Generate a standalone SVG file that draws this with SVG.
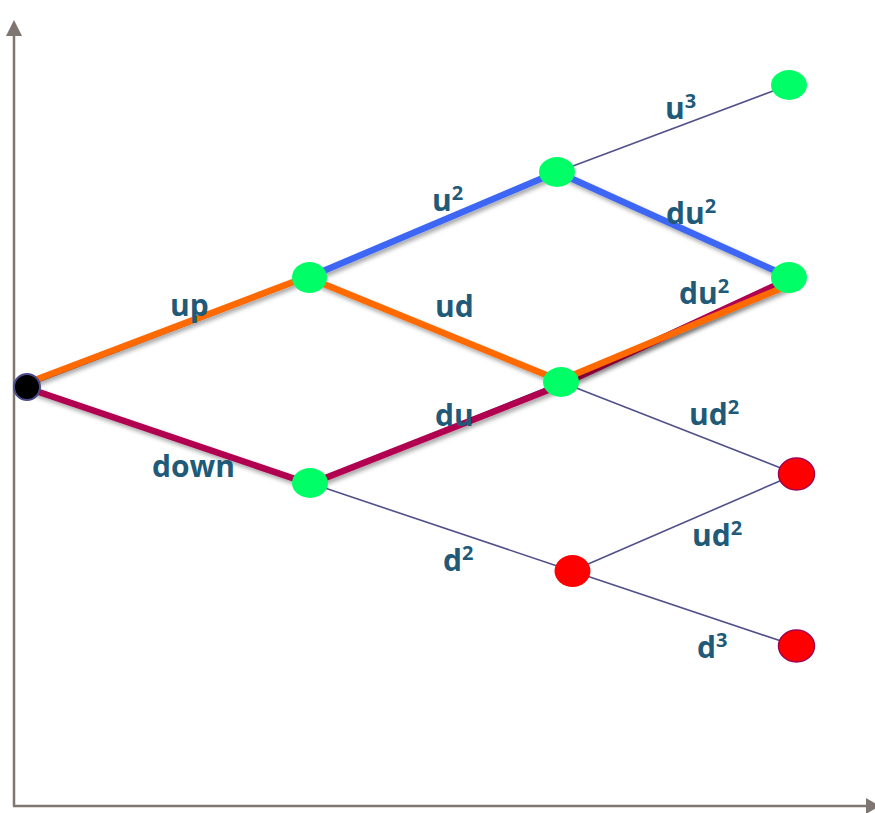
<svg xmlns="http://www.w3.org/2000/svg" width="875" height="813" viewBox="0 0 875 813">
<defs>
<filter id="sh" x="-10%" y="-20%" width="130%" height="160%">
<feDropShadow dx="2" dy="3" stdDeviation="2" flood-color="#000" flood-opacity="0.35"/>
</filter>
<style>
.axis{stroke:#7f7672;stroke-width:2.5;fill:none}
.thin{stroke:#50508a;stroke-width:1.6;fill:none}
.blue{stroke:#3d66f5;stroke-width:6.5;fill:none;filter:url(#sh)}
.orange{stroke:#ff6a00;stroke-width:6.5;fill:none;filter:url(#sh)}
.crim{stroke:#b0004f;stroke-width:6.5;fill:none;filter:url(#sh)}
.g{fill:#00ff66}
.r{fill:#ff0000;stroke:#a00050;stroke-width:1.5}
.rn{fill:#ff0000}
.lbl{font-family:"Open Sans","Liberation Sans",sans-serif;font-weight:bold;font-size:30px;fill:#215a78}
.sup{font-size:20px}
</style>
</defs>
<rect width="875" height="813" fill="#fff"/>
<g id="axes">
<line class="axis" x1="14" y1="34" x2="14" y2="806"/>
<line class="axis" x1="13" y1="806" x2="866" y2="806"/>
<polygon points="14,20 6,36 22,36" fill="#7f7672"/>
<polygon points="866,798 866,814 880,806" fill="#7f7672"/>
</g>
<g id="connectors">
<line class="thin" x1="27" y1="386" x2="309" y2="278"/>
<line class="thin" x1="27" y1="386" x2="310" y2="483"/>
<line class="thin" x1="309" y1="278" x2="557" y2="172"/>
<line class="thin" x1="309" y1="278" x2="561" y2="382"/>
<line class="thin" x1="310" y1="483" x2="561" y2="382"/>
<line class="thin" x1="310" y1="483" x2="572" y2="571"/>
<line class="thin" x1="557" y1="172" x2="789" y2="85"/>
<line class="thin" x1="557" y1="172" x2="789" y2="277"/>
<line class="thin" x1="561" y1="382" x2="789" y2="277"/>
<line class="thin" x1="561" y1="382" x2="796" y2="474"/>
<line class="thin" x1="572" y1="571" x2="796" y2="474"/>
<line class="thin" x1="572" y1="571" x2="796" y2="646"/>
<line class="crim" x1="27" y1="388" x2="310" y2="484"/>
<line class="crim" x1="310" y1="484" x2="561" y2="385"/>
<line class="crim" x1="561" y1="385" x2="789" y2="279"/>
<line class="orange" x1="27" y1="383" x2="309" y2="276"/>
<line class="orange" x1="309" y1="278" x2="561" y2="381"/>
<line class="orange" x1="561" y1="380" x2="789" y2="285"/>
<line class="blue" x1="309" y1="277" x2="557" y2="172"/>
<line class="blue" x1="557" y1="172" x2="789" y2="277"/>
</g>
<g id="n0"><circle cx="27" cy="387" r="13" fill="#000" stroke="#4b4b8b" stroke-width="2"/></g>
<g id="n_up"><ellipse class="g" cx="309.5" cy="277.5" rx="17.5" ry="15.5"/></g>
<g id="n_down"><ellipse class="g" cx="310" cy="483" rx="18" ry="15"/></g>
<g id="n_u2"><ellipse class="g" cx="557" cy="172" rx="18" ry="15"/></g>
<g id="n_ud"><ellipse class="g" cx="561" cy="382" rx="18" ry="15"/></g>
<g id="n_d2"><ellipse class="rn" cx="572.5" cy="571" rx="18" ry="16"/></g>
<g id="n_u3"><ellipse class="g" cx="789" cy="85" rx="18" ry="15"/></g>
<g id="n_du2"><ellipse class="g" cx="789" cy="277.5" rx="18" ry="15.5"/></g>
<g id="n_ud2"><ellipse class="r" cx="796.5" cy="474" rx="18" ry="16"/></g>
<g id="n_d3"><ellipse class="r" cx="796.5" cy="646" rx="18" ry="16"/></g>
<g id="labels">
<text class="lbl" x="170" y="316">up</text>
<text class="lbl" x="152" y="477">down</text>
<text class="lbl" x="432" y="211">u<tspan class="sup" dy="-11">2</tspan></text>
<text class="lbl" x="435" y="317">ud</text>
<text class="lbl" x="435" y="426">du</text>
<text class="lbl" x="443" y="571">d<tspan class="sup" dy="-11">2</tspan></text>
<text class="lbl" x="665" y="119">u<tspan class="sup" dy="-11">3</tspan></text>
<text class="lbl" x="666" y="224">du<tspan class="sup" dy="-11">2</tspan></text>
<text class="lbl" x="679" y="304">du<tspan class="sup" dy="-11">2</tspan></text>
<text class="lbl" x="689" y="425">ud<tspan class="sup" dy="-11">2</tspan></text>
<text class="lbl" x="692" y="546">ud<tspan class="sup" dy="-11">2</tspan></text>
<text class="lbl" x="697" y="658">d<tspan class="sup" dy="-11">3</tspan></text>
</g>
</svg>
